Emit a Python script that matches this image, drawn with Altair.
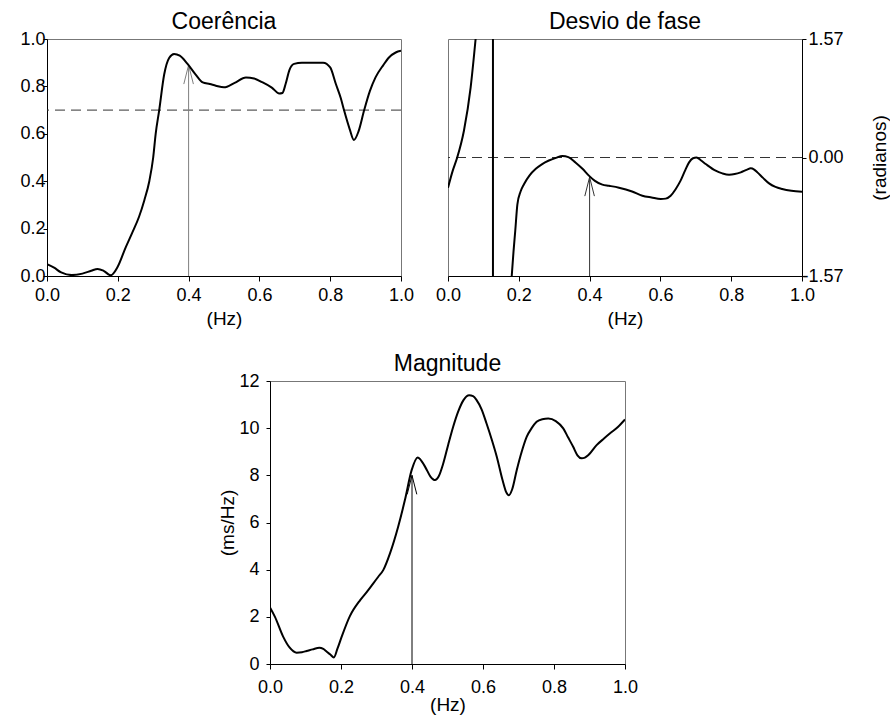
import altair as alt
import pandas as pd

FONT = "Liberation Sans"

# ---------------- data ----------------
coh_f = [0, 0.02, 0.04, 0.07, 0.1, 0.125, 0.143, 0.16, 0.18, 0.2, 0.222, 0.24, 0.26, 0.275,
         0.289, 0.3, 0.307, 0.317, 0.331, 0.345, 0.359, 0.375, 0.397, 0.42, 0.44, 0.46, 0.477,
         0.5, 0.53, 0.562, 0.585, 0.609, 0.635, 0.656, 0.665, 0.674, 0.685, 0.698, 0.72, 0.759,
         0.78, 0.8, 0.816, 0.83, 0.839, 0.855, 0.867, 0.88, 0.896, 0.912, 0.928, 0.95, 0.966,
         0.985, 1.0]
coh_v = [0.05, 0.035, 0.015, 0.004, 0.01, 0.022, 0.03, 0.022, 0.003, 0.04, 0.12, 0.18, 0.25,
         0.32, 0.40, 0.50, 0.60, 0.70, 0.85, 0.92, 0.937, 0.93, 0.895, 0.85, 0.817, 0.81, 0.803,
         0.796, 0.815, 0.838, 0.833, 0.817, 0.795, 0.77, 0.772, 0.81, 0.87, 0.895, 0.9, 0.90,
         0.9, 0.88, 0.81, 0.75, 0.70, 0.62, 0.574, 0.61, 0.70, 0.78, 0.838, 0.89, 0.922, 0.943,
         0.95]
coh_threshold = [0.7]

phase_seg1_f = [0, 0.013, 0.026, 0.045, 0.064, 0.078]
phase_seg1_v = [-0.40, -0.18, 0.0, 0.355, 0.93, 1.57]
phase_wrap_f = [0.127]
phase_seg2_f = [0.18, 0.185, 0.19, 0.196, 0.205, 0.215, 0.23, 0.248, 0.265, 0.285, 0.305,
                0.323, 0.34, 0.36, 0.38, 0.398, 0.415, 0.436, 0.455, 0.483, 0.52, 0.549, 0.575,
                0.601, 0.615, 0.629, 0.643, 0.657, 0.67, 0.681, 0.692, 0.702, 0.715, 0.728,
                0.756, 0.775, 0.794, 0.81, 0.827, 0.845, 0.855, 0.865, 0.874, 0.89, 0.907,
                0.925, 0.944, 0.97, 1.0]
phase_seg2_v = [-1.57, -1.25, -0.97, -0.62, -0.45, -0.35, -0.24, -0.15, -0.09, -0.04, -0.005,
                0.02, 0.005, -0.065, -0.15, -0.24, -0.31, -0.36, -0.375, -0.40, -0.45, -0.506,
                -0.53, -0.55, -0.545, -0.506, -0.42, -0.307, -0.17, -0.065, -0.01, 0.0, -0.04,
                -0.086, -0.175, -0.21, -0.228, -0.22, -0.197, -0.16, -0.144, -0.16, -0.197,
                -0.27, -0.343, -0.39, -0.417, -0.44, -0.453]
phase_zero = [0.0]

mag_f = [0, 0.014, 0.037, 0.055, 0.075, 0.09, 0.103, 0.12, 0.139, 0.15, 0.16, 0.17, 0.18, 0.19,
         0.202, 0.225, 0.254, 0.275, 0.291, 0.305, 0.319, 0.338, 0.361, 0.38, 0.399, 0.416,
         0.437, 0.452, 0.465, 0.475, 0.488, 0.502, 0.516, 0.53, 0.545, 0.561, 0.572, 0.582,
         0.596, 0.61, 0.625, 0.639, 0.655, 0.665, 0.673, 0.682, 0.695, 0.709, 0.723, 0.737,
         0.751, 0.767, 0.784, 0.805, 0.826, 0.84, 0.854, 0.866, 0.878, 0.887, 0.897, 0.92,
         0.94, 0.958, 0.98, 1.0]
mag_v = [2.40, 2.0, 1.16, 0.7, 0.48, 0.5, 0.55, 0.62, 0.69, 0.64, 0.52, 0.4, 0.28, 0.65, 1.16,
         2.03, 2.71, 3.1, 3.42, 3.7, 3.98, 4.69, 5.82, 6.95, 8.22, 8.76, 8.36, 7.95, 7.80, 7.95,
         8.5, 9.3, 10.06, 10.7, 11.19, 11.40, 11.36, 11.19, 10.8, 10.2, 9.5, 8.78, 7.8, 7.3,
         7.16, 7.4, 8.22, 9.0, 9.63, 10.0, 10.27, 10.38, 10.41, 10.3, 9.99, 9.6, 9.21, 8.85,
         8.72, 8.75, 8.86, 9.28, 9.55, 9.78, 10.05, 10.37]

# arrows marking 0.4 Hz
coh_arrow = {"f": [0.4], "base": [0.0], "tip": [0.89]}
phase_arrow = {"f": [0.4], "base": [-1.57], "tip": [-0.26]}
mag_arrow = {"f": [0.4], "base": [0.0], "tip": [8.0]}

freq_ticks = [0.0, 0.2, 0.4, 0.6, 0.8, 1.0]
coh_ticks = [0.0, 0.2, 0.4, 0.6, 0.8, 1.0]
phase_ticks = [-1.57, 0.0, 1.57]
mag_ticks = [0, 2, 4, 6, 8, 10, 12]

CHEVRON = "M-0.24,0.95L0,0L0.24,0.95"
LW = 2


def x_axis(label_pad=5, title_pad=5):
    return alt.Axis(values=freq_ticks, format=".1f", title="(Hz)", tickSize=5,
                    labelPadding=label_pad, titlePadding=title_pad, grid=False)


def arrow_layers(arrow, xscale, yscale, color):
    df = pd.DataFrame(arrow)
    rule = alt.Chart(df).mark_rule(color=color, strokeWidth=1).encode(
        x=alt.X("f:Q", scale=xscale), y=alt.Y("base:Q", scale=yscale), y2="tip:Q")
    head = alt.Chart(df).mark_point(shape=CHEVRON, size=1600, filled=False, color=color,
                                    strokeWidth=1, opacity=1).encode(
        x=alt.X("f:Q", scale=xscale), y=alt.Y("tip:Q", scale=yscale))
    return rule, head


TITLE_OFFSET = -4

# ---------------- panel 1: coherence ----------------
xs1 = alt.Scale(domain=[0, 1], nice=False, zero=False)
ys1 = alt.Scale(domain=[0, 1], nice=False)
coh_df = pd.DataFrame({"f": coh_f, "v": coh_v})
coh_line = alt.Chart(coh_df).mark_line(color="black", strokeWidth=LW, interpolate="monotone",
                                       clip=True).encode(
    x=alt.X("f:Q", scale=xs1, axis=x_axis()),
    y=alt.Y("v:Q", scale=ys1, axis=alt.Axis(values=coh_ticks, format=".1f", title=None,
                                            tickSize=4, labelPadding=-2, grid=False)))
coh_thr = alt.Chart(pd.DataFrame({"t": coh_threshold})).mark_rule(
    color="#333333", strokeDash=[10, 6], strokeWidth=1).encode(y=alt.Y("t:Q", scale=ys1))
r1, h1 = arrow_layers(coh_arrow, xs1, ys1, "#7f7f7f")
p1 = alt.layer(coh_thr, r1, h1, coh_line).properties(
    width=354, height=237, title=alt.TitleParams("Coerência", offset=TITLE_OFFSET))

# ---------------- panel 2: phase ----------------
xs2 = alt.Scale(domain=[0, 1], nice=False, zero=False)
ys2 = alt.Scale(domain=[-1.57, 1.57], nice=False, zero=False)
phase_df = pd.concat([
    pd.DataFrame({"f": phase_seg1_f, "v": phase_seg1_v, "seg": "a"}),
    pd.DataFrame({"f": phase_seg2_f, "v": phase_seg2_v, "seg": "b"}),
])
phase_line = alt.Chart(phase_df).mark_line(color="black", strokeWidth=LW,
                                           interpolate="monotone", clip=True).encode(
    x=alt.X("f:Q", scale=xs2, axis=x_axis()),
    y=alt.Y("v:Q", scale=ys2, axis=alt.Axis(
        orient="right", values=phase_ticks, title="(radianos)", titleAngle=270,
        labelExpr="replace(format(datum.value, '.2f'), '\u2212', '-')",
        labelAlign="right", labelPadding=37, tickSize=4, titlePadding=46, grid=False)),
    detail="seg:N")
wrap_df = pd.DataFrame({"f": phase_wrap_f, "lo": [phase_ticks[0]], "hi": [phase_ticks[-1]]})
phase_wrap = alt.Chart(wrap_df).mark_rule(color="black", strokeWidth=LW).encode(
    x=alt.X("f:Q", scale=xs2), y=alt.Y("lo:Q", scale=ys2), y2="hi:Q")
phase_zero_rule = alt.Chart(pd.DataFrame({"t": phase_zero})).mark_rule(
    color="#333333", strokeDash=[10, 6], strokeWidth=1).encode(y=alt.Y("t:Q", scale=ys2))
r2, h2 = arrow_layers(phase_arrow, xs2, ys2, "#333333")
p2 = alt.layer(phase_zero_rule, r2, h2, phase_wrap, phase_line).properties(
    width=354, height=237, title=alt.TitleParams("Desvio de fase", offset=TITLE_OFFSET))

# ---------------- panel 3: magnitude ----------------
xs3 = alt.Scale(domain=[0, 1], nice=False, zero=False)
ys3 = alt.Scale(domain=[0, 12], nice=False)
mag_df = pd.DataFrame({"f": mag_f, "v": mag_v})
mag_line = alt.Chart(mag_df).mark_line(color="black", strokeWidth=LW, interpolate="monotone",
                                       clip=True).encode(
    x=alt.X("f:Q", scale=xs3, axis=x_axis(label_pad=9, title_pad=-1)),
    y=alt.Y("v:Q", scale=ys3, axis=alt.Axis(values=mag_ticks, title="(ms/Hz)", tickSize=4,
                                            labelPadding=7, titlePadding=1, grid=False)))
r3, h3 = arrow_layers(mag_arrow, xs3, ys3, "black")
p3 = alt.layer(r3, h3, mag_line).properties(
    width=355, height=283, title=alt.TitleParams("Magnitude", offset=TITLE_OFFSET))

spacer = alt.Chart(pd.DataFrame({"a": [0]})).mark_point(opacity=0).encode(
    x=alt.X("a:Q", axis=None), y=alt.Y("a:Q", axis=None)).properties(
    width=223, height=283, view=alt.ViewBackground(strokeOpacity=0))

row1 = alt.hconcat(p1, p2, spacing=47, bounds="flush")
row2 = alt.hconcat(spacer, p3, spacing=0, bounds="flush")
chart = alt.vconcat(row1, row2, spacing=23, bounds="full").properties(
    padding={"left": 19, "top": 10, "right": 0, "bottom": 0}
).configure_axis(
    labelFont=FONT, titleFont=FONT, labelFontSize=18, titleFontSize=19,
    titleFontWeight="normal", labelColor="black", titleColor="black",
    tickColor="black", domainColor="black", labelFlush=False
).configure_title(
    font=FONT, fontSize=23, fontWeight="normal", color="black"
).configure_view(stroke="#777777", strokeWidth=1)

chart.save("out.html", embed_options={"renderer": "svg", "actions": False})
